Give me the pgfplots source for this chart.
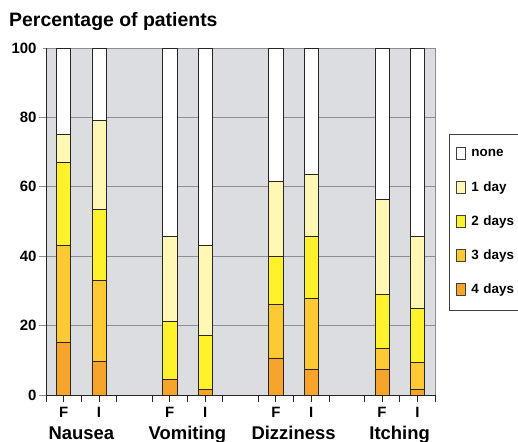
\documentclass[border=0pt]{standalone}
\usepackage{fontspec}
\setmainfont{Liberation Sans}
\usepackage{pgfplots}
\pgfplotsset{compat=1.18}
\definecolor{cfour}{HTML}{F7A52A}
\definecolor{cthree}{HTML}{FFC933}
\definecolor{ctwo}{HTML}{FFF22A}
\definecolor{cone}{HTML}{FFF7B3}
\definecolor{bgc}{HTML}{DCDDE0}
\definecolor{gridc}{HTML}{8E8E8E}
\begin{document}
\begin{tikzpicture}[x=1bp,y=1bp]
\useasboundingbox (0,0) rectangle (518,442);
\node[anchor=base west, font=\bfseries\fontsize{19.5}{21}\selectfont, inner sep=0] at (9,415) {Percentage of patients};
\begin{axis}[
  name=ax,
  at={(46bp,47bp)}, anchor=south west,
  scale only axis, width=389bp, height=347bp,
  xmin=0, xmax=11, ymin=0, ymax=100,
  ybar stacked, bar width=0.4,
  axis background/.style={fill=bgc},
  axis x line*=bottom, axis y line*=left,
  axis line style={draw=black!85, line width=0.8pt},
  tick align=outside,
  major tick length=7bp,
  ytick={0,20,...,100},
  ymajorgrids, grid style={draw=gridc, line width=0.8pt},
  ytick style={draw=gridc, line width=0.8pt, shorten <=4bp},
  xtick={0,...,11},
  xticklabels={,Nausea,,,Vomiting,,,Dizziness,,,Itching,},
  xticklabel style={font=\bfseries\fontsize{18.5}{20}\selectfont, anchor=base, yshift=-37bp},
  xtick style={draw=black!85, line width=0.8pt},
  extra x ticks={0.5,1.5,3.5,4.5,6.5,7.5,9.5,10.5},
  extra x tick labels={F,I,F,I,F,I,F,I},
  extra x tick style={tick style={draw=none}, grid=none,
     xticklabel style={font=\bfseries\fontsize{15}{16}\selectfont, yshift=21.5bp}},
  /pgf/number format/assume math mode=true,
  yticklabel style={font=\bfseries\fontsize{15}{16}\selectfont, xshift=1bp},
  legend style={at={(axis description cs:1.036,0.752)}, anchor=north west,
     draw=black!75, line width=0.6pt, fill=white,
     font=\bfseries\fontsize{13.5}{14}\selectfont,
     row sep=20bp, inner xsep=3bp, inner ysep=13bp,
     nodes={inner sep=1.5bp, text width=60bp}},
  legend cell align=left,
  reverse legend,
  legend image code/.code={\path (0bp,0bp) (17bp,0bp); \draw[#1, draw=black!75, line width=0.6pt] (4bp,-6bp) rectangle (13bp,6bp);},
]
\addplot[fill=cfour, draw=black!85, line width=0.6pt] coordinates {(0.5,15.3) (1.5,9.6) (3.5,4.5) (4.5,1.7) (6.5,10.7) (7.5,7.5) (9.5,7.5) (10.5,1.6)};
\addlegendentry{4 days}
\addplot[fill=cthree, draw=black!85, line width=0.6pt] coordinates {(0.5,27.7) (1.5,23.4) (3.5,0) (4.5,0) (6.5,15.4) (7.5,20.5) (9.5,6.0) (10.5,7.9)};
\addlegendentry{3 days}
\addplot[fill=ctwo, draw=black!85, line width=0.6pt] coordinates {(0.5,24.1) (1.5,20.5) (3.5,16.8) (4.5,15.5) (6.5,13.9) (7.5,17.8) (9.5,15.6) (10.5,15.5)};
\addlegendentry{2 days}
\addplot[fill=cone, draw=black!85, line width=0.6pt] coordinates {(0.5,8.0) (1.5,25.7) (3.5,24.5) (4.5,25.8) (6.5,21.5) (7.5,17.9) (9.5,27.4) (10.5,20.7)};
\addlegendentry{1 day}
\addplot[fill=white, draw=black!85, line width=0.6pt] coordinates {(0.5,24.9) (1.5,20.8) (3.5,54.2) (4.5,57.0) (6.5,38.5) (7.5,36.3) (9.5,43.5) (10.5,54.3)};
\addlegendentry{none}
\end{axis}
\draw[gridc, line width=0.8pt] (ax.south east) -- (ax.north east);
\end{tikzpicture}
\end{document}
